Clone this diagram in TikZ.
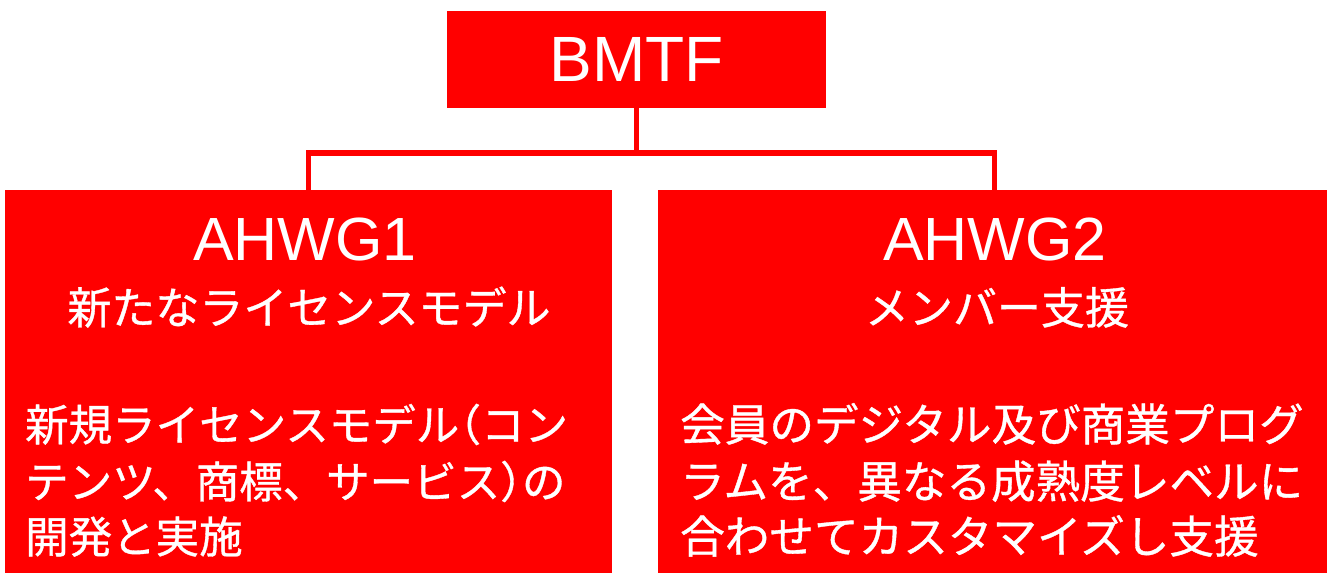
\documentclass[tikz,border=0pt]{standalone}
\usepackage{fontspec}
\setmainfont{Liberation Sans}
\newfontfamily\jp[FakeBold=0.8]{Noto Sans CJK JP}
\begin{document}
\begin{tikzpicture}[x=1pt,y=-1pt,
  box/.style={fill={rgb,255:red,255;green,0;blue,0}, draw=none, inner sep=0pt},
  conn/.style={draw={rgb,255:red,255;green,0;blue,0}, line width=5.5pt},
  latin/.style={text=white, inner sep=0pt, anchor=base, font=\fontsize{61}{70}\selectfont},
  jpsub/.style={text=white, inner sep=0pt, anchor=base, font=\jp\fontsize{44}{57}\selectfont},
  jpbody/.style={text=white, inner sep=0pt, anchor=base west, font=\jp\fontsize{44.6}{57}\selectfont},
  jpbodyl/.style={jpbody, font=\jp\fontsize{43.5}{57}\selectfont}]
\useasboundingbox (0,0) rectangle (1327,575);
\fill[white] (0,0) rectangle (1327,575);
% boxes
\node[box, anchor=north west, minimum width=379, minimum height=97] (bmtf) at (447,11) {};
\node[box, anchor=north west, minimum width=607, minimum height=383] (g1) at (5,190) {};
\node[box, anchor=north west, minimum width=673, minimum height=383] (g2) at (658,190) {};
% connectors
\coordinate (bar) at (0,153);
\draw[conn] (bmtf.south) -- (bmtf.south |- bar);
\draw[conn] (g1.north) -- (g1.north |- bar) -- (g2.north |- bar) -- (g2.north);
% texts
\node[latin, font=\fontsize{64}{72}\selectfont] (tb) at (636.5,82) {BMTF};
\node[latin] (t1) at (305,260) {AHWG1};
\node[latin] (t2) at (995,260) {AHWG2};
\node[jpsub] (s1) at (309,324) {新たなライセンスモデル};
\node[jpsub] (s2) at (997,324) {メンバー支援};
\node[jpbodyl] (a1) at (25,441) {新規ライセンスモデル\kern-0.5em（コン};
\node[jpbodyl] (a2) at (25,498) {テンツ、商標、サービス）\kern-0.5em の};
\node[jpbodyl] (a3) at (25,553) {開発と実施};
\node[jpbody] (b1) at (680,441) {会員のデジタル及び商業プログ};
\node[jpbody] (b2) at (680,498) {ラムを、異なる成熟度レベルに};
\node[jpbody] (b3) at (680,553) {合わせてカスタマイズし支援};
\end{tikzpicture}
\end{document}
